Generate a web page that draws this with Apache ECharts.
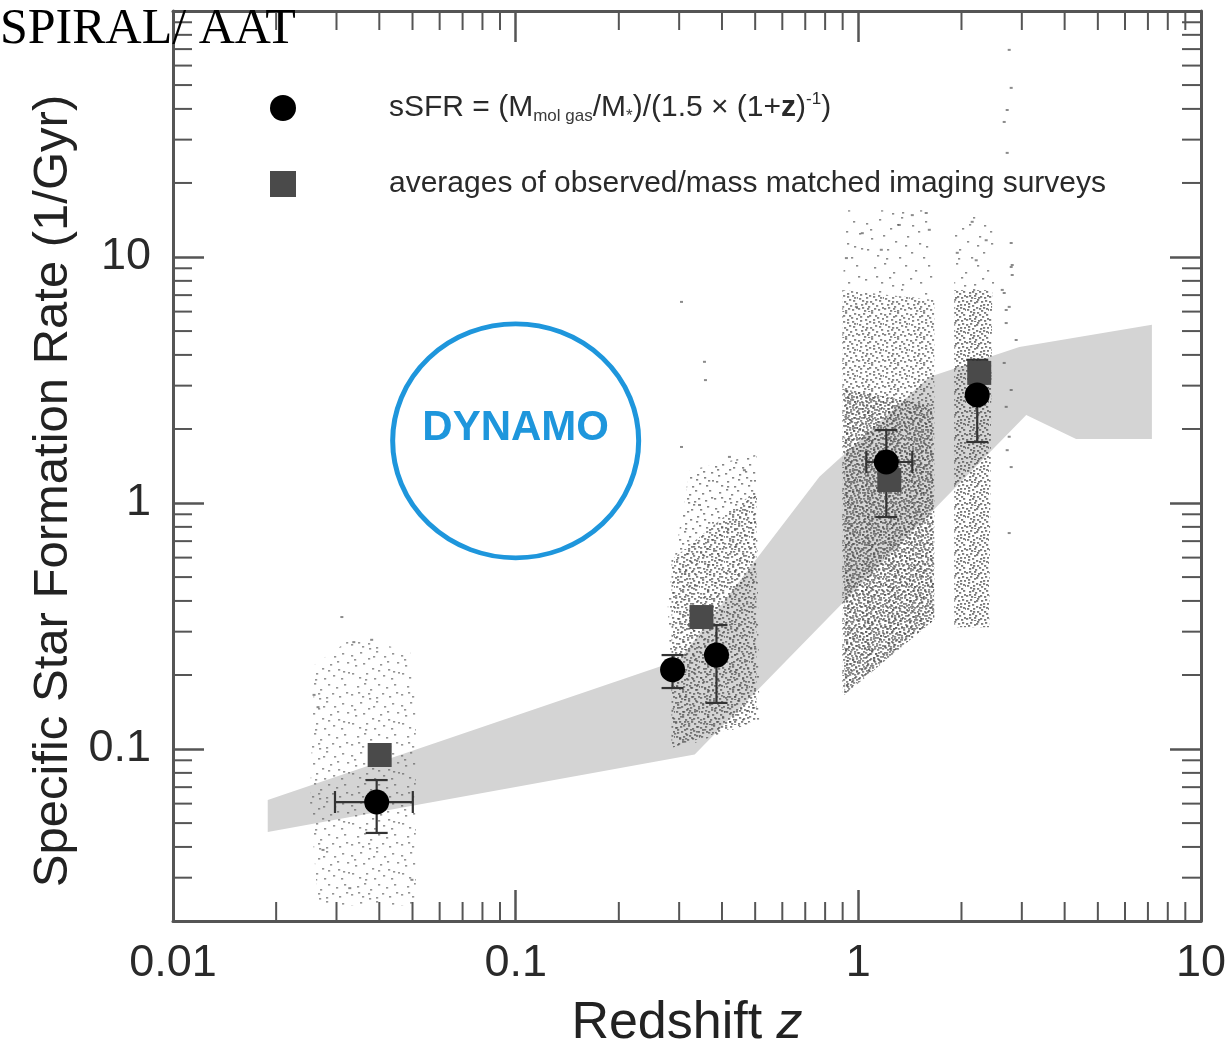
<!DOCTYPE html>
<html>
<head>
<meta charset="utf-8">
<script src="https://cdn.jsdelivr.net/npm/echarts@6/dist/echarts.min.js"></script>
<style>
  html, body { margin: 0; padding: 0; background: #ffffff; }
  #chart { width: 1231px; height: 1042px; }
</style>
</head>
<body>
<div id="chart"></div>
<script>
// ---- axes ----
const X_RANGE = [0.01, 10];
const Y_RANGE = [0.02, 100];
const X_TICK_LABELS = ['0.01', '0.1', '1', '10'];
const Y_TICK_LABELS = ['0.1', '1', '10'];
const X_MINOR_TICKS = [0.02, 0.03, 0.04, 0.05, 0.06, 0.07, 0.08, 0.09,
                       0.2, 0.3, 0.4, 0.5, 0.6, 0.7, 0.8, 0.9,
                       2, 3, 4, 5, 6, 7, 8, 9];
const Y_MINOR_TICKS = [0.03, 0.04, 0.05, 0.06, 0.07, 0.08, 0.09,
                       0.2, 0.3, 0.4, 0.5, 0.6, 0.7, 0.8, 0.9,
                       2, 3, 4, 5, 6, 7, 8, 9,
                       20, 30, 40, 50, 60, 70, 80, 90];

// ---- model band (redshift, sSFR) ----
const BAND_UPPER = [[0.0189, 0.062], [0.30, 0.23], [0.77, 1.28], [1.61, 3.25], [2.95, 4.31], [7.19, 5.30]];
const BAND_LOWER = [[7.19, 1.82], [4.32, 1.82], [3.09, 2.28], [0.333, 0.095], [0.0189, 0.046]];

// ---- galaxy sample envelopes (redshift, sSFR) ----
const CLOUD_A = [[0.0259, 0.220], [0.0328, 0.278], [0.0491, 0.253], [0.0511, 0.158], [0.0511, 0.0232], [0.0265, 0.0232], [0.0251, 0.0621]];
const CLOUD_B_OUTER = [[0.3216, 1.36], [0.5042, 1.57], [0.5145, 0.131], [0.2908, 0.0991], [0.2774, 0.404]];
const CLOUD_B_CORE = [[0.2850, 0.587], [0.5042, 1.13], [0.5042, 0.131], [0.2850, 0.101]];
const CLOUD_C_SPARSE = [[0.929, 15.5], [1.611, 15.5], [1.666, 6.69], [0.898, 7.35]];
const CLOUD_C_MID = [[0.898, 7.35], [1.666, 6.69], [1.666, 0.335], [0.898, 0.166]];
const CLOUD_C_CORE = [[0.910, 2.9], [1.644, 2.5], [1.666, 0.335], [0.910, 0.166]];
const CLOUD_D_SPARSE = [[1.905, 14.8], [2.492, 14.8], [2.492, 7.35], [1.905, 7.35]];
const CLOUD_D_CORE = [[1.905, 7.35], [2.459, 7.35], [2.409, 0.313], [1.905, 0.313]];

// ---- isolated galaxies outside the envelopes ----
const STRAYS_A = [[0.0311, 0.344], [0.0337, 0.272], [0.0380, 0.278], [0.0258, 0.166], [0.0265, 0.148], [0.0274, 0.0389], [0.0328, 0.0272], [0.0498, 0.0294]];
const STRAYS_B = [[0.3048, 6.57], [0.3556, 3.75], [0.358, 3.16], [0.3048, 1.69], [0.4206, 1.54], [0.465, 1.36], [0.344, 0.982]];
const STRAYS_C = [[1.027, 12.5], [1.317, 13.5], [1.437, 14.8], [1.578, 15.1], [1.611, 12.9], [1.167, 10.7], [0.923, 9.9], [0.987, 6.27]];
const STRAYS_D = [[2.149, 13.9], [2.361, 11.7], [1.944, 10.4], [2.208, 9.7],
                  [2.756, 69.5], [2.793, 48.7], [2.719, 39.6], [2.665, 35.4], [2.719, 26.5], [2.793, 11.4],
                  [2.812, 9.28], [2.812, 8.45], [2.630, 7.35], [2.665, 7.14], [2.701, 6.09], [2.793, 9.11],
                  [2.756, 6.27], [2.701, 5.39], [2.888, 4.60], [2.665, 3.71], [2.793, 2.88], [2.701, 2.46],
                  [2.756, 1.86], [2.719, 1.64], [2.793, 1.40], [2.756, 0.755]];

// ---- molecular-gas sSFR points with errors ----
const SSFR_POINTS = [[0.0393, 0.0609], [0.287, 0.210], [0.3855, 0.241], [1.207, 1.468], [2.223, 2.75]];
const SSFR_Y_ERR = [[0.0456, 0.0748], [0.177, 0.241], [0.154, 0.319], [0.877, 1.98], [1.77, 3.82]];
const SSFR_X_ERR = [[0.0297, 0.0501], null, null, [1.055, 1.437], null];

// ---- imaging survey averages ----
const SURVEY_POINTS = [[0.0401, 0.0946], [0.3485, 0.344], [1.231, 1.24], [2.253, 3.38]];

// ---- DYNAMO label anchor ----
const DYNAMO_MARK = [[0.1, 1.79]];

const SERIES_NAMES = ['sSFR = (Mmol gas/M*)/(1.5 × (1+z)-1)', 'averages of observed/mass matched imaging surveys'];

// stipple texture used to render dense point clouds
const STIPPLE = [[0.03, 0.11], [0.21, 0.05], [0.37, 0.17], [0.52, 0.02], [0.68, 0.13], [0.85, 0.07], [0.94, 0.24],
                 [0.11, 0.31], [0.27, 0.27], [0.44, 0.36], [0.61, 0.29], [0.77, 0.38], [0.05, 0.47], [0.19, 0.55],
                 [0.33, 0.46], [0.49, 0.58], [0.66, 0.51], [0.82, 0.57], [0.97, 0.45], [0.14, 0.72], [0.29, 0.66],
                 [0.41, 0.78], [0.57, 0.69], [0.72, 0.75], [0.89, 0.69], [0.02, 0.88], [0.24, 0.93], [0.36, 0.86],
                 [0.53, 0.95], [0.64, 0.87], [0.79, 0.92], [0.93, 0.84], [0.09, 0.19], [0.58, 0.41], [0.46, 0.12],
                 [0.31, 0.59], [0.75, 0.22], [0.17, 0.84], [0.87, 0.43], [0.39, 0.97]];

function makeStipple(tile, color, w, h) {
  const c = document.createElement('canvas');
  c.width = tile; c.height = tile;
  const g = c.getContext('2d');
  g.fillStyle = color;
  STIPPLE.forEach(([u, v]) => g.fillRect(Math.floor(u * tile), Math.floor(v * tile), w, h));
  return { image: c, repeat: 'repeat' };
}

const AXIS_COLOR = '#555555';
const FONT = '"Liberation Sans", Arial, sans-serif';

function polygonSeries(name, verts, fill, z) {
  return {
    type: 'custom', name, coordinateSystem: 'cartesian2d', silent: true, z,
    data: verts,
    renderItem(params, api) {
      if (params.dataIndex !== 0) return null;
      return { type: 'polygon', shape: { points: verts.map(p => api.coord(p)) }, style: { fill } };
    }
  };
}

function tickLine(x1, y1, x2, y2) {
  return { type: 'line', shape: { x1, y1, x2, y2 }, style: { stroke: AXIS_COLOR, lineWidth: 2 } };
}

function minorTickSeries(values, dir) {
  const len = 19;
  return {
    type: 'custom', coordinateSystem: 'cartesian2d', silent: true, z: 6,
    data: values.map(v => dir === 'x' ? [v, Y_RANGE[0]] : [X_RANGE[0], v]),
    renderItem(params, api) {
      if (dir === 'x') {
        const v = api.value(0);
        const b = api.coord([v, Y_RANGE[0]]), t = api.coord([v, Y_RANGE[1]]);
        return { type: 'group', children: [tickLine(b[0], b[1], b[0], b[1] - len), tickLine(t[0], t[1], t[0], t[1] + len)] };
      }
      const v = api.value(1);
      const l = api.coord([X_RANGE[0], v]), r = api.coord([X_RANGE[1], v]);
      return { type: 'group', children: [tickLine(l[0], l[1], l[0] + len, l[1]), tickLine(r[0], r[1], r[0] - len, r[1])] };
    }
  };
}

function tickFormatter(labels) {
  return v => labels.find(s => Math.abs(parseFloat(s) / v - 1) < 1e-6) || '';
}

const bandFill = '#d4d4d4';
const densePat = makeStipple(21, 'rgba(70,70,70,0.62)', 2.2, 1.8);
const midPat = makeStipple(26, 'rgba(75,75,75,0.68)', 2.2, 1.8);
const sparsePat = makeStipple(72, 'rgba(90,90,90,0.7)', 2.2, 1.6);
const lightPat = makeStipple(50, 'rgba(90,90,90,0.65)', 2.2, 1.6);
const bOuterPat = makeStipple(42, 'rgba(80,80,80,0.7)', 2.2, 1.6);
const bCorePat = makeStipple(25, 'rgba(75,75,75,0.7)', 2.2, 1.8);
const dPat = makeStipple(23, 'rgba(70,70,70,0.72)', 2.2, 1.8);

const errColor = '#333333';
function errLine(x1, y1, x2, y2) {
  return { type: 'line', shape: { x1, y1, x2, y2 }, style: { stroke: errColor, lineWidth: 2.2 } };
}

const chart = echarts.init(document.getElementById('chart'), null, { renderer: 'canvas' });

chart.setOption({
  backgroundColor: '#ffffff',
  animation: false,
  grid: { left: 173, right: 30, top: 11, bottom: 121, containLabel: false, outerBoundsMode: 'none' },
  legend: {
    orient: 'vertical', left: 265, top: 86, itemWidth: 26, itemHeight: 26, itemGap: 44,
    selectedMode: false,
    data: [{ name: SERIES_NAMES[0], icon: 'circle' }, { name: SERIES_NAMES[1], icon: 'rect' }],
    formatter: name => name === SERIES_NAMES[0]
      ? '{gap|}{t|sSFR = (M}{sub|mol gas}{t|/M}{sub|*}{t|)/(1.5 × (1+}{b|z}{t|)}{sup|-1}{t|)}'
      : '{gap|}{t|' + SERIES_NAMES[1] + '}',
    textStyle: {
      rich: {
        gap: { width: 88 },
        t: { fontSize: 30, color: '#2a2a2a', fontFamily: FONT, lineHeight: 34 },
        b: { fontSize: 30, color: '#2a2a2a', fontFamily: FONT, fontWeight: 'bold', lineHeight: 34 },
        sub: { fontSize: 17, color: '#3a3a3a', fontFamily: FONT, verticalAlign: 'bottom', lineHeight: 12 },
        sup: { fontSize: 17, color: '#2a2a2a', fontFamily: FONT, verticalAlign: 'top', lineHeight: 14 }
      }
    }
  },
  xAxis: [{
    type: 'log', logBase: 10, min: X_RANGE[0], max: X_RANGE[1], position: 'bottom',
    name: 'Redshift {i|z}', nameLocation: 'middle', nameGap: 77,
    nameTextStyle: { fontSize: 52, color: '#222222', fontFamily: FONT,
      rich: { i: { fontSize: 52, fontStyle: 'italic', color: '#222222', fontFamily: FONT } } },
    axisLine: { show: true, lineStyle: { color: AXIS_COLOR, width: 3 } },
    axisTick: { show: true, inside: true, length: 31, lineStyle: { color: AXIS_COLOR, width: 2.5 } },
    axisLabel: { fontSize: 45, color: '#2a2a2a', fontFamily: FONT, margin: 20, formatter: tickFormatter(X_TICK_LABELS) },
    splitLine: { show: false }, minorTick: { show: false }
  }, {
    type: 'log', logBase: 10, min: X_RANGE[0], max: X_RANGE[1], position: 'top',
    axisLine: { show: true, lineStyle: { color: AXIS_COLOR, width: 3 } },
    axisTick: { show: true, inside: true, length: 31, lineStyle: { color: AXIS_COLOR, width: 2.5 } },
    axisLabel: { show: false }, splitLine: { show: false }
  }],
  yAxis: [{
    type: 'log', logBase: 10, min: Y_RANGE[0], max: Y_RANGE[1], position: 'left',
    name: 'Specific Star Formation Rate (1/Gyr)', nameLocation: 'middle', nameGap: 92,
    nameTextStyle: { fontSize: 49, color: '#222222', fontFamily: FONT, padding: [0, 50, 0, 0] },
    axisLine: { show: true, lineStyle: { color: AXIS_COLOR, width: 3 } },
    axisTick: { show: true, inside: true, length: 31, lineStyle: { color: AXIS_COLOR, width: 2.5 } },
    axisLabel: { fontSize: 45, color: '#2a2a2a', fontFamily: FONT, margin: 22, formatter: tickFormatter(Y_TICK_LABELS) },
    splitLine: { show: false }
  }, {
    type: 'log', logBase: 10, min: Y_RANGE[0], max: Y_RANGE[1], position: 'right',
    axisLine: { show: true, lineStyle: { color: AXIS_COLOR, width: 3 } },
    axisTick: { show: true, inside: true, length: 31, lineStyle: { color: AXIS_COLOR, width: 2.5 } },
    axisLabel: { show: false }, splitLine: { show: false }
  }],
  graphic: [{
    type: 'text', left: 0, top: 5, z: 100,
    style: { text: 'SPIRAL/ AAT', font: '50px "Liberation Serif", "Times New Roman", serif', fill: '#000000' }
  }],
  series: [
    polygonSeries('model band', BAND_UPPER.concat(BAND_LOWER), bandFill, 1),
    polygonSeries('sample z~0.04', CLOUD_A, lightPat, 2),
    polygonSeries('sample z~0.4', CLOUD_B_OUTER, bOuterPat, 2),
    polygonSeries('sample z~0.4 core', CLOUD_B_CORE, bCorePat, 2),
    polygonSeries('sample z~1.2 outskirts', CLOUD_C_SPARSE, sparsePat, 2),
    polygonSeries('sample z~1.2', CLOUD_C_MID, midPat, 2),
    polygonSeries('sample z~1.2 core', CLOUD_C_CORE, densePat, 2),
    polygonSeries('sample z~2.2 outskirts', CLOUD_D_SPARSE, sparsePat, 2),
    polygonSeries('sample z~2.2 core', CLOUD_D_CORE, dPat, 2),
    {
      type: 'scatter', name: 'isolated galaxies', silent: true, z: 2,
      symbol: 'rect', symbolSize: [3, 2],
      itemStyle: { color: 'rgba(90,90,90,0.7)', opacity: 1 },
      data: [].concat(STRAYS_A, STRAYS_B, STRAYS_C, STRAYS_D)
    },
    {
      type: 'custom', name: 'error bars', coordinateSystem: 'cartesian2d', silent: true, z: 3,
      data: SSFR_POINTS,
      renderItem(params, api) {
        const i = params.dataIndex;
        const z = SSFR_POINTS[i][0], v = SSFR_POINTS[i][1];
        const lo = api.coord([z, SSFR_Y_ERR[i][0]]), hi = api.coord([z, SSFR_Y_ERR[i][1]]);
        const cap = 11;
        const kids = [
          errLine(lo[0], lo[1], hi[0], hi[1]),
          errLine(lo[0] - cap, lo[1], lo[0] + cap, lo[1]),
          errLine(hi[0] - cap, hi[1], hi[0] + cap, hi[1])
        ];
        const xe = SSFR_X_ERR[i];
        if (xe) {
          const l = api.coord([xe[0], v]), r = api.coord([xe[1], v]);
          kids.push(errLine(l[0], l[1], r[0], r[1]),
                    errLine(l[0], l[1] - cap, l[0], l[1] + cap),
                    errLine(r[0], r[1] - cap, r[0], r[1] + cap));
        }
        return { type: 'group', children: kids };
      }
    },
    {
      type: 'scatter', name: SERIES_NAMES[1], z: 4, symbol: 'rect', symbolSize: 24,
      itemStyle: { color: '#4a4a4a', opacity: 1 }, data: SURVEY_POINTS
    },
    {
      type: 'scatter', name: SERIES_NAMES[0], z: 5, symbol: 'circle', symbolSize: 25,
      itemStyle: { color: '#000000', opacity: 1 }, data: SSFR_POINTS
    },
    minorTickSeries(X_MINOR_TICKS, 'x'),
    minorTickSeries(Y_MINOR_TICKS, 'y'),
    {
      type: 'custom', name: 'DYNAMO', coordinateSystem: 'cartesian2d', silent: true, z: 7,
      data: DYNAMO_MARK,
      renderItem(params, api) {
        const c = api.coord([api.value(0), api.value(1)]);
        return {
          type: 'group', children: [
            { type: 'circle', x: c[0], y: c[1], scaleY: 117 / 123, shape: { cx: 0, cy: 0, r: 123 },
              style: { fill: 'rgba(255,255,255,0)', stroke: '#1e96dc', lineWidth: 5 } },
            { type: 'text', x: c[0], y: c[1] - 12,
              style: { text: 'DYNAMO', fill: '#1e96dc', font: 'bold 42px ' + FONT, align: 'center', verticalAlign: 'middle' } }
          ]
        };
      }
    }
  ]
});
</script>
</body>
</html>
